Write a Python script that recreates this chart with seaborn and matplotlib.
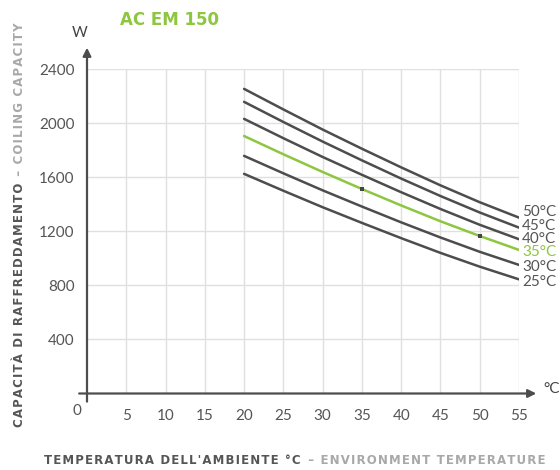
import numpy as np
import pandas as pd
import seaborn as sns
import matplotlib.pyplot as plt

# values (W vs ambient temperature)
temps = [20, 25, 30, 35, 40, 45, 50, 55]
cap_50 = [2255, 2103, 1954, 1812, 1674, 1541, 1416, 1302]
cap_45 = [2159, 2010, 1865, 1726, 1591, 1462, 1340, 1228]
cap_40 = [2033, 1890, 1751, 1619, 1490, 1366, 1249, 1142]
cap_35 = [1906, 1771, 1640, 1514, 1392, 1275, 1166, 1063]
cap_30 = [1759, 1630, 1504, 1384, 1267, 1155, 1049, 952]
cap_25 = [1626, 1501, 1379, 1263, 1150, 1041, 939, 845]
curve_names = ['50°C', '45°C', '40°C', '35°C', '30°C', '25°C']
marked_x = [35, 50]

x_ticks = [5, 10, 15, 20, 25, 30, 35, 40, 45, 50, 55]
y_ticks = [400, 800, 1200, 1600, 2000, 2400]

dark = '#4d4d4d'
green = '#8dc63f'
grid_col = '#e0e0e0'
txt = '#555555'
light_txt = '#a8a8a8'

rows = []
for name, vals in zip(curve_names, [cap_50, cap_45, cap_40, cap_35, cap_30, cap_25]):
    for t, v in zip(temps, vals):
        rows.append({'temp': t, 'cap': v, 'curve': name})
df = pd.DataFrame(rows)

sns.set_style("white")
plt.rcParams['font.family'] = ['Lato', 'DejaVu Sans']


def spaced(s):
    # fake letter spacing with hair spaces
    return '\u200a'.join(s)


W, H = 560, 470
fig = plt.figure(figsize=(W / 100, H / 100), dpi=100)
ax = fig.add_axes([87 / W, 1 - 393.5 / H, 432 / W, 324.2 / H])

palette = {n: (green if n == '35°C' else dark) for n in curve_names}
sns.lineplot(data=df, x='temp', y='cap', hue='curve', palette=palette,
             linewidth=1.8, legend=False, ax=ax, zorder=3)

# the two marked points on the 35°C curve
pts = df[(df.curve == '35°C') & (df.temp.isin(marked_x))]
ax.scatter(pts.temp, pts.cap, marker='s', s=6, color='#444444', zorder=4, linewidths=0)

ax.set_xlim(0, 55)
ax.set_ylim(0, 2400)
ax.set_xticks(x_ticks)
ax.set_yticks(y_ticks)
ax.set_xlabel('')
ax.set_ylabel('')
for s in ax.spines.values():
    s.set_visible(False)
ax.grid(True, color=grid_col, linewidth=1)
ax.tick_params(axis='x', length=7, color=grid_col, width=1, pad=4,
               labelsize=11, labelcolor=txt)
ax.tick_params(axis='y', length=0, pad=9, labelsize=11, labelcolor=txt)

# origin label
ax.text(-1.3, -80, '0', ha='center', va='top', fontsize=11, color=txt)

# axis arrows
arrow = dict(arrowstyle='-|>', color=dark, lw=1.6, mutation_scale=12, shrinkA=0, shrinkB=0)
ax.annotate('', xy=(0, 2560), xytext=(0, -60), arrowprops=arrow, annotation_clip=False)
ax.annotate('', xy=(57.2, 0), xytext=(-1.0, 0), arrowprops=arrow, annotation_clip=False)

# curve labels at the right end
label_y = [212, 226, 239, 252, 267, 282]
for name, py in zip(curve_names, label_y):
    fig.text(522 / W, 1 - py / H, name, ha='left', va='center', fontsize=11,
             color=(green if name == '35°C' else txt))

fig.text(80 / W, 1 - 33 / H, 'W', ha='center', va='center', fontsize=11, color='#444444')
fig.text(543 / W, 1 - 389 / H, '°C', ha='left', va='center', fontsize=11, color='#444444')

fig.text(120 / W, 1 - 20 / H, 'AC EM 150', ha='left', va='center', fontsize=12,
         fontweight='bold', color=green, family='DejaVu Sans')

# axis titles in two colours
lab_kw = dict(fontsize=8.5, fontweight='bold', family='DejaVu Sans')
t1 = fig.text(44 / W, 1 - 460 / H, spaced("TEMPERATURA DELL'AMBIENTE °C"), ha='left',
              va='center', color=txt, **lab_kw)
t3 = fig.text(20 / W, 1 - 427 / H, spaced('CAPACITÀ DI RAFFREDDAMENTO'), ha='center',
              va='bottom', rotation=90, color=txt, **lab_kw)
fig.canvas.draw()
bb1 = t1.get_window_extent()
bb3 = t3.get_window_extent()
fig.text((bb1.x1 + 2) / W, 1 - 460 / H, spaced(' – ENVIRONMENT TEMPERATURE'), ha='left',
         va='center', color=light_txt, **lab_kw)
fig.text(20 / W, (bb3.y1 + 2) / H, spaced(' – COILING CAPACITY'), ha='center', va='bottom',
         rotation=90, color=light_txt, **lab_kw)

fig.savefig('out.png', dpi=100)
